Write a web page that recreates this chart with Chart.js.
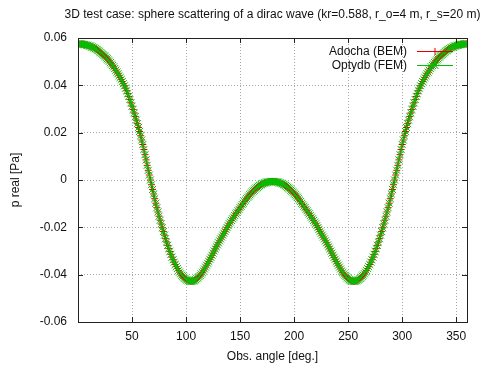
<!DOCTYPE html>
<html>
<head>
<meta charset="utf-8">
<script src="https://cdn.jsdelivr.net/npm/chart.js@4.4.0/dist/chart.umd.min.js"></script>
<style>
body { margin: 0; background: #fff; }
canvas { display: block; }
</style>
</head>
<body>
<canvas id="chart" width="495" height="371"></canvas>
<script>
var titleText = '3D test case: sphere scattering of a dirac wave (kr=0.588, r_o=4 m, r_s=20 m)';
var seriesNames = ['Adocha (BEM)', 'Optydb (FEM)'];
var seriesColors = ['#e00000', '#00c000'];

// observation angle in degrees, one point per degree
var angles = [0, 1, 2, 3, 4, 5, 6, 7, 8, 9, 10, 11, 12, 13, 14, 15, 16, 17, 18, 19,
    20, 21, 22, 23, 24, 25, 26, 27, 28, 29, 30, 31, 32, 33, 34, 35, 36, 37, 38, 39,
    40, 41, 42, 43, 44, 45, 46, 47, 48, 49, 50, 51, 52, 53, 54, 55, 56, 57, 58, 59,
    60, 61, 62, 63, 64, 65, 66, 67, 68, 69, 70, 71, 72, 73, 74, 75, 76, 77, 78, 79,
    80, 81, 82, 83, 84, 85, 86, 87, 88, 89, 90, 91, 92, 93, 94, 95, 96, 97, 98, 99,
    100, 101, 102, 103, 104, 105, 106, 107, 108, 109, 110, 111, 112, 113, 114, 115, 116, 117, 118, 119,
    120, 121, 122, 123, 124, 125, 126, 127, 128, 129, 130, 131, 132, 133, 134, 135, 136, 137, 138, 139,
    140, 141, 142, 143, 144, 145, 146, 147, 148, 149, 150, 151, 152, 153, 154, 155, 156, 157, 158, 159,
    160, 161, 162, 163, 164, 165, 166, 167, 168, 169, 170, 171, 172, 173, 174, 175, 176, 177, 178, 179,
    180, 181, 182, 183, 184, 185, 186, 187, 188, 189, 190, 191, 192, 193, 194, 195, 196, 197, 198, 199,
    200, 201, 202, 203, 204, 205, 206, 207, 208, 209, 210, 211, 212, 213, 214, 215, 216, 217, 218, 219,
    220, 221, 222, 223, 224, 225, 226, 227, 228, 229, 230, 231, 232, 233, 234, 235, 236, 237, 238, 239,
    240, 241, 242, 243, 244, 245, 246, 247, 248, 249, 250, 251, 252, 253, 254, 255, 256, 257, 258, 259,
    260, 261, 262, 263, 264, 265, 266, 267, 268, 269, 270, 271, 272, 273, 274, 275, 276, 277, 278, 279,
    280, 281, 282, 283, 284, 285, 286, 287, 288, 289, 290, 291, 292, 293, 294, 295, 296, 297, 298, 299,
    300, 301, 302, 303, 304, 305, 306, 307, 308, 309, 310, 311, 312, 313, 314, 315, 316, 317, 318, 319,
    320, 321, 322, 323, 324, 325, 326, 327, 328, 329, 330, 331, 332, 333, 334, 335, 336, 337, 338, 339,
    340, 341, 342, 343, 344, 345, 346, 347, 348, 349, 350, 351, 352, 353, 354, 355, 356, 357, 358, 359,
    360];

// real part of pressure, BEM solution
var pBem = [0.0575, 0.0575, 0.0575, 0.0575, 0.0574, 0.0573, 0.0572, 0.0571, 0.0570, 0.0569,
    0.0567, 0.0566, 0.0564, 0.0562, 0.0560, 0.0558, 0.0555, 0.0552, 0.0549, 0.0546,
    0.0542, 0.0538, 0.0534, 0.0530, 0.0526, 0.0522, 0.0517, 0.0512, 0.0507, 0.0502,
    0.0496, 0.0490, 0.0484, 0.0478, 0.0471, 0.0464, 0.0456, 0.0449, 0.0441, 0.0433,
    0.0425, 0.0416, 0.0407, 0.0398, 0.0388, 0.0377, 0.0365, 0.0353, 0.0340, 0.0326,
    0.0312, 0.0298, 0.0283, 0.0268, 0.0253, 0.0238, 0.0222, 0.0205, 0.0187, 0.0169,
    0.0150, 0.0129, 0.0107, 0.0085, 0.0062, 0.0041, 0.0021, 0.0000, -0.0020, -0.0040,
    -0.0059, -0.0079, -0.0098, -0.0117, -0.0135, -0.0153, -0.0170, -0.0186, -0.0202, -0.0218,
    -0.0233, -0.0248, -0.0262, -0.0276, -0.0290, -0.0302, -0.0314, -0.0326, -0.0337, -0.0347,
    -0.0357, -0.0366, -0.0374, -0.0382, -0.0389, -0.0396, -0.0402, -0.0407, -0.0412, -0.0416,
    -0.0420, -0.0423, -0.0425, -0.0427, -0.0428, -0.0428, -0.0427, -0.0426, -0.0424, -0.0421,
    -0.0417, -0.0413, -0.0408, -0.0403, -0.0397, -0.0391, -0.0384, -0.0376, -0.0368, -0.0360,
    -0.0352, -0.0344, -0.0335, -0.0327, -0.0318, -0.0309, -0.0300, -0.0291, -0.0282, -0.0274,
    -0.0265, -0.0257, -0.0249, -0.0241, -0.0233, -0.0225, -0.0217, -0.0209, -0.0201, -0.0193,
    -0.0185, -0.0178, -0.0171, -0.0164, -0.0157, -0.0150, -0.0143, -0.0137, -0.0130, -0.0124,
    -0.0117, -0.0111, -0.0104, -0.0098, -0.0091, -0.0085, -0.0079, -0.0073, -0.0068, -0.0062,
    -0.0057, -0.0052, -0.0047, -0.0043, -0.0038, -0.0034, -0.0031, -0.0027, -0.0024, -0.0021,
    -0.0019, -0.0016, -0.0014, -0.0012, -0.0011, -0.0009, -0.0008, -0.0008, -0.0007, -0.0006,
    -0.0006,
    -0.0006, -0.0007, -0.0008, -0.0008, -0.0009, -0.0011, -0.0012, -0.0014, -0.0016, -0.0019,
    -0.0021, -0.0024, -0.0027, -0.0031, -0.0034, -0.0038, -0.0043, -0.0047, -0.0052, -0.0057,
    -0.0062, -0.0068, -0.0073, -0.0079, -0.0085, -0.0091, -0.0098, -0.0104, -0.0111, -0.0117,
    -0.0124, -0.0130, -0.0137, -0.0143, -0.0150, -0.0157, -0.0164, -0.0171, -0.0178, -0.0185,
    -0.0193, -0.0201, -0.0209, -0.0217, -0.0225, -0.0233, -0.0241, -0.0249, -0.0257, -0.0265,
    -0.0274, -0.0282, -0.0291, -0.0300, -0.0309, -0.0318, -0.0327, -0.0335, -0.0344, -0.0352,
    -0.0360, -0.0368, -0.0376, -0.0384, -0.0391, -0.0397, -0.0403, -0.0408, -0.0413, -0.0417,
    -0.0421, -0.0424, -0.0426, -0.0427, -0.0428, -0.0428, -0.0427, -0.0425, -0.0423, -0.0420,
    -0.0416, -0.0412, -0.0407, -0.0402, -0.0396, -0.0389, -0.0382, -0.0374, -0.0366, -0.0357,
    -0.0347, -0.0337, -0.0326, -0.0314, -0.0302, -0.0290, -0.0276, -0.0262, -0.0248, -0.0233,
    -0.0218, -0.0202, -0.0186, -0.0170, -0.0153, -0.0135, -0.0117, -0.0098, -0.0079, -0.0059,
    -0.0040, -0.0020, 0.0000, 0.0021, 0.0041, 0.0062, 0.0085, 0.0107, 0.0129, 0.0150,
    0.0169, 0.0187, 0.0205, 0.0222, 0.0238, 0.0253, 0.0268, 0.0283, 0.0298, 0.0312,
    0.0326, 0.0340, 0.0353, 0.0365, 0.0377, 0.0388, 0.0398, 0.0407, 0.0416, 0.0425,
    0.0433, 0.0441, 0.0449, 0.0456, 0.0464, 0.0471, 0.0478, 0.0484, 0.0490, 0.0496,
    0.0502, 0.0507, 0.0512, 0.0517, 0.0522, 0.0526, 0.0530, 0.0534, 0.0538, 0.0542,
    0.0546, 0.0549, 0.0552, 0.0555, 0.0558, 0.0560, 0.0562, 0.0564, 0.0566, 0.0567,
    0.0569, 0.0570, 0.0571, 0.0572, 0.0573, 0.0574, 0.0575, 0.0575, 0.0575, 0.0575];

// real part of pressure, FEM solution (lies on the BEM one at this scale)
var pFem = [0.0575, 0.0575, 0.0575, 0.0575, 0.0574, 0.0573, 0.0572, 0.0571, 0.0570, 0.0569,
    0.0567, 0.0566, 0.0564, 0.0562, 0.0560, 0.0558, 0.0555, 0.0552, 0.0549, 0.0546,
    0.0542, 0.0538, 0.0534, 0.0530, 0.0526, 0.0522, 0.0517, 0.0512, 0.0507, 0.0502,
    0.0496, 0.0490, 0.0484, 0.0478, 0.0471, 0.0464, 0.0456, 0.0449, 0.0441, 0.0433,
    0.0425, 0.0416, 0.0407, 0.0398, 0.0388, 0.0377, 0.0365, 0.0353, 0.0340, 0.0326,
    0.0312, 0.0298, 0.0283, 0.0268, 0.0253, 0.0238, 0.0222, 0.0205, 0.0187, 0.0169,
    0.0150, 0.0129, 0.0107, 0.0085, 0.0062, 0.0041, 0.0021, 0.0000, -0.0020, -0.0040,
    -0.0059, -0.0079, -0.0098, -0.0117, -0.0135, -0.0153, -0.0170, -0.0186, -0.0202, -0.0218,
    -0.0233, -0.0248, -0.0262, -0.0276, -0.0290, -0.0302, -0.0314, -0.0326, -0.0337, -0.0347,
    -0.0357, -0.0366, -0.0374, -0.0382, -0.0389, -0.0396, -0.0402, -0.0407, -0.0412, -0.0416,
    -0.0420, -0.0423, -0.0425, -0.0427, -0.0428, -0.0428, -0.0427, -0.0426, -0.0424, -0.0421,
    -0.0417, -0.0413, -0.0408, -0.0403, -0.0397, -0.0391, -0.0384, -0.0376, -0.0368, -0.0360,
    -0.0352, -0.0344, -0.0335, -0.0327, -0.0318, -0.0309, -0.0300, -0.0291, -0.0282, -0.0274,
    -0.0265, -0.0257, -0.0249, -0.0241, -0.0233, -0.0225, -0.0217, -0.0209, -0.0201, -0.0193,
    -0.0185, -0.0178, -0.0171, -0.0164, -0.0157, -0.0150, -0.0143, -0.0137, -0.0130, -0.0124,
    -0.0117, -0.0111, -0.0104, -0.0098, -0.0091, -0.0085, -0.0079, -0.0073, -0.0068, -0.0062,
    -0.0057, -0.0052, -0.0047, -0.0043, -0.0038, -0.0034, -0.0031, -0.0027, -0.0024, -0.0021,
    -0.0019, -0.0016, -0.0014, -0.0012, -0.0011, -0.0009, -0.0008, -0.0008, -0.0007, -0.0006,
    -0.0006,
    -0.0006, -0.0007, -0.0008, -0.0008, -0.0009, -0.0011, -0.0012, -0.0014, -0.0016, -0.0019,
    -0.0021, -0.0024, -0.0027, -0.0031, -0.0034, -0.0038, -0.0043, -0.0047, -0.0052, -0.0057,
    -0.0062, -0.0068, -0.0073, -0.0079, -0.0085, -0.0091, -0.0098, -0.0104, -0.0111, -0.0117,
    -0.0124, -0.0130, -0.0137, -0.0143, -0.0150, -0.0157, -0.0164, -0.0171, -0.0178, -0.0185,
    -0.0193, -0.0201, -0.0209, -0.0217, -0.0225, -0.0233, -0.0241, -0.0249, -0.0257, -0.0265,
    -0.0274, -0.0282, -0.0291, -0.0300, -0.0309, -0.0318, -0.0327, -0.0335, -0.0344, -0.0352,
    -0.0360, -0.0368, -0.0376, -0.0384, -0.0391, -0.0397, -0.0403, -0.0408, -0.0413, -0.0417,
    -0.0421, -0.0424, -0.0426, -0.0427, -0.0428, -0.0428, -0.0427, -0.0425, -0.0423, -0.0420,
    -0.0416, -0.0412, -0.0407, -0.0402, -0.0396, -0.0389, -0.0382, -0.0374, -0.0366, -0.0357,
    -0.0347, -0.0337, -0.0326, -0.0314, -0.0302, -0.0290, -0.0276, -0.0262, -0.0248, -0.0233,
    -0.0218, -0.0202, -0.0186, -0.0170, -0.0153, -0.0135, -0.0117, -0.0098, -0.0079, -0.0059,
    -0.0040, -0.0020, 0.0000, 0.0021, 0.0041, 0.0062, 0.0085, 0.0107, 0.0129, 0.0150,
    0.0169, 0.0187, 0.0205, 0.0222, 0.0238, 0.0253, 0.0268, 0.0283, 0.0298, 0.0312,
    0.0326, 0.0340, 0.0353, 0.0365, 0.0377, 0.0388, 0.0398, 0.0407, 0.0416, 0.0425,
    0.0433, 0.0441, 0.0449, 0.0456, 0.0464, 0.0471, 0.0478, 0.0484, 0.0490, 0.0496,
    0.0502, 0.0507, 0.0512, 0.0517, 0.0522, 0.0526, 0.0530, 0.0534, 0.0538, 0.0542,
    0.0546, 0.0549, 0.0552, 0.0555, 0.0558, 0.0560, 0.0562, 0.0564, 0.0566, 0.0567,
    0.0569, 0.0570, 0.0571, 0.0572, 0.0573, 0.0574, 0.0575, 0.0575, 0.0575, 0.0575];

var xTicks = [50, 100, 150, 200, 250, 300, 350];
var yTicks = [-0.06, -0.04, -0.02, 0, 0.02, 0.04, 0.06];

var FONT = '"Liberation Sans", Arial, sans-serif';
var TEXT = '#111';

function toPoints(values) {
    return angles.map(function (a, i) {
        return {x: a, y: values[i]};
    });
}

// gnuplot style frame, inward ticks, title and key
var gnuplotLook = {
    id: 'gnuplotLook',
    afterDatasetsDraw: function (chart) {
        var ctx = chart.ctx;
        var area = chart.chartArea;
        var xs = chart.scales.x;
        var ys = chart.scales.y;
        var tl = 5;
        ctx.save();
        ctx.strokeStyle = '#222';
        ctx.lineWidth = 1;
        ctx.beginPath();
        xTicks.forEach(function (v) {
            var px = Math.round(xs.getPixelForValue(v)) + 0.5;
            ctx.moveTo(px, area.bottom); ctx.lineTo(px, area.bottom - tl);
            ctx.moveTo(px, area.top); ctx.lineTo(px, area.top + tl);
        });
        yTicks.forEach(function (v) {
            var py = Math.round(ys.getPixelForValue(v)) + 0.5;
            ctx.moveTo(area.left, py); ctx.lineTo(area.left + tl, py);
            ctx.moveTo(area.right, py); ctx.lineTo(area.right - tl, py);
        });
        ctx.stroke();
        ctx.strokeRect(Math.round(area.left) + 0.5, Math.round(area.top) + 0.5,
            Math.round(area.right - area.left), Math.round(area.bottom - area.top));

        // key, top right inside the plot
        ctx.font = '12px ' + FONT;
        ctx.textBaseline = 'middle';
        ctx.textAlign = 'right';
        chart.data.datasets.forEach(function (ds, i) {
            var y = Math.round(area.top + 13 + i * 14) + 0.5;
            ctx.fillStyle = TEXT;
            ctx.fillText(ds.label, area.right - 60, y);
            ctx.strokeStyle = seriesColors[i];
            ctx.lineWidth = 1;
            ctx.beginPath();
            ctx.moveTo(area.right - 50, y);
            ctx.lineTo(area.right - 14, y);
            ctx.stroke();
            Chart.helpers.drawPoint(ctx, {
                pointStyle: ds.pointStyle,
                radius: ds.pointRadius,
                rotation: 0,
                borderWidth: 1
            }, area.right - 32, y);
        });

        // title, centred over the plot
        ctx.textAlign = 'center';
        ctx.fillStyle = TEXT;
        ctx.fillText(titleText, (area.left + area.right) / 2, 15);
        ctx.restore();
    }
};

var config = {
    type: 'scatter',
    data: {
        datasets: [{
            label: seriesNames[0],
            data: toPoints(pBem),
            showLine: true,
            borderColor: seriesColors[0],
            backgroundColor: seriesColors[0],
            borderWidth: 1,
            pointStyle: 'cross',
            pointRadius: 3.5,
            pointHoverRadius: 3.5,
            pointBorderWidth: 1,
            order: 2
        }, {
            label: seriesNames[1],
            data: toPoints(pFem),
            showLine: true,
            borderColor: seriesColors[1],
            backgroundColor: seriesColors[1],
            borderWidth: 1,
            pointStyle: 'crossRot',
            pointRadius: 5,
            pointHoverRadius: 5,
            pointBorderWidth: 1,
            order: 1
        }]
    },
    options: {
        responsive: false,
        animation: false,
        devicePixelRatio: 1,
        layout: {
            padding: {top: 38, right: 28, left: 0, bottom: 0}
        },
        plugins: {
            legend: {display: false},
            title: {display: false},
            tooltip: {enabled: false}
        },
        scales: {
            x: {
                type: 'linear',
                min: 0,
                max: 360,
                afterBuildTicks: function (scale) {
                    scale.ticks = xTicks.map(function (v) { return {value: v}; });
                },
                afterFit: function (scale) { scale.height = 49; },
                ticks: {
                    padding: 7,
                    maxRotation: 0,
                    color: TEXT,
                    font: {family: FONT, size: 12}
                },
                grid: {color: '#a8a8a8', lineWidth: 1, drawTicks: false},
                border: {display: false, dash: [1, 2]},
                title: {
                    display: true,
                    text: 'Obs. angle [deg.]',
                    color: TEXT,
                    font: {family: FONT, size: 12},
                    padding: {top: 0, bottom: 7}
                }
            },
            y: {
                min: -0.06,
                max: 0.06,
                afterBuildTicks: function (scale) {
                    scale.ticks = yTicks.map(function (v) { return {value: v}; });
                },
                afterFit: function (scale) { scale.width = 78; },
                ticks: {
                    padding: 11,
                    color: TEXT,
                    font: {family: FONT, size: 12},
                    callback: function (v) {
                        return Math.abs(v) < 1e-9 ? '0' : v.toFixed(2);
                    }
                },
                grid: {
                    color: function (c) {
                        return Math.abs(Math.abs(c.tick.value) - 0.06) < 1e-9 ? 'rgba(0,0,0,0)' : '#a8a8a8';
                    },
                    lineWidth: 1,
                    drawTicks: false
                },
                border: {display: false, dash: [1, 2]},
                title: {
                    display: true,
                    text: 'p real [Pa]',
                    color: TEXT,
                    font: {family: FONT, size: 12},
                    padding: {top: 8, bottom: 0}
                }
            }
        }
    },
    plugins: [gnuplotLook]
};

new Chart(document.getElementById('chart').getContext('2d'), config);
</script>
</body>
</html>
